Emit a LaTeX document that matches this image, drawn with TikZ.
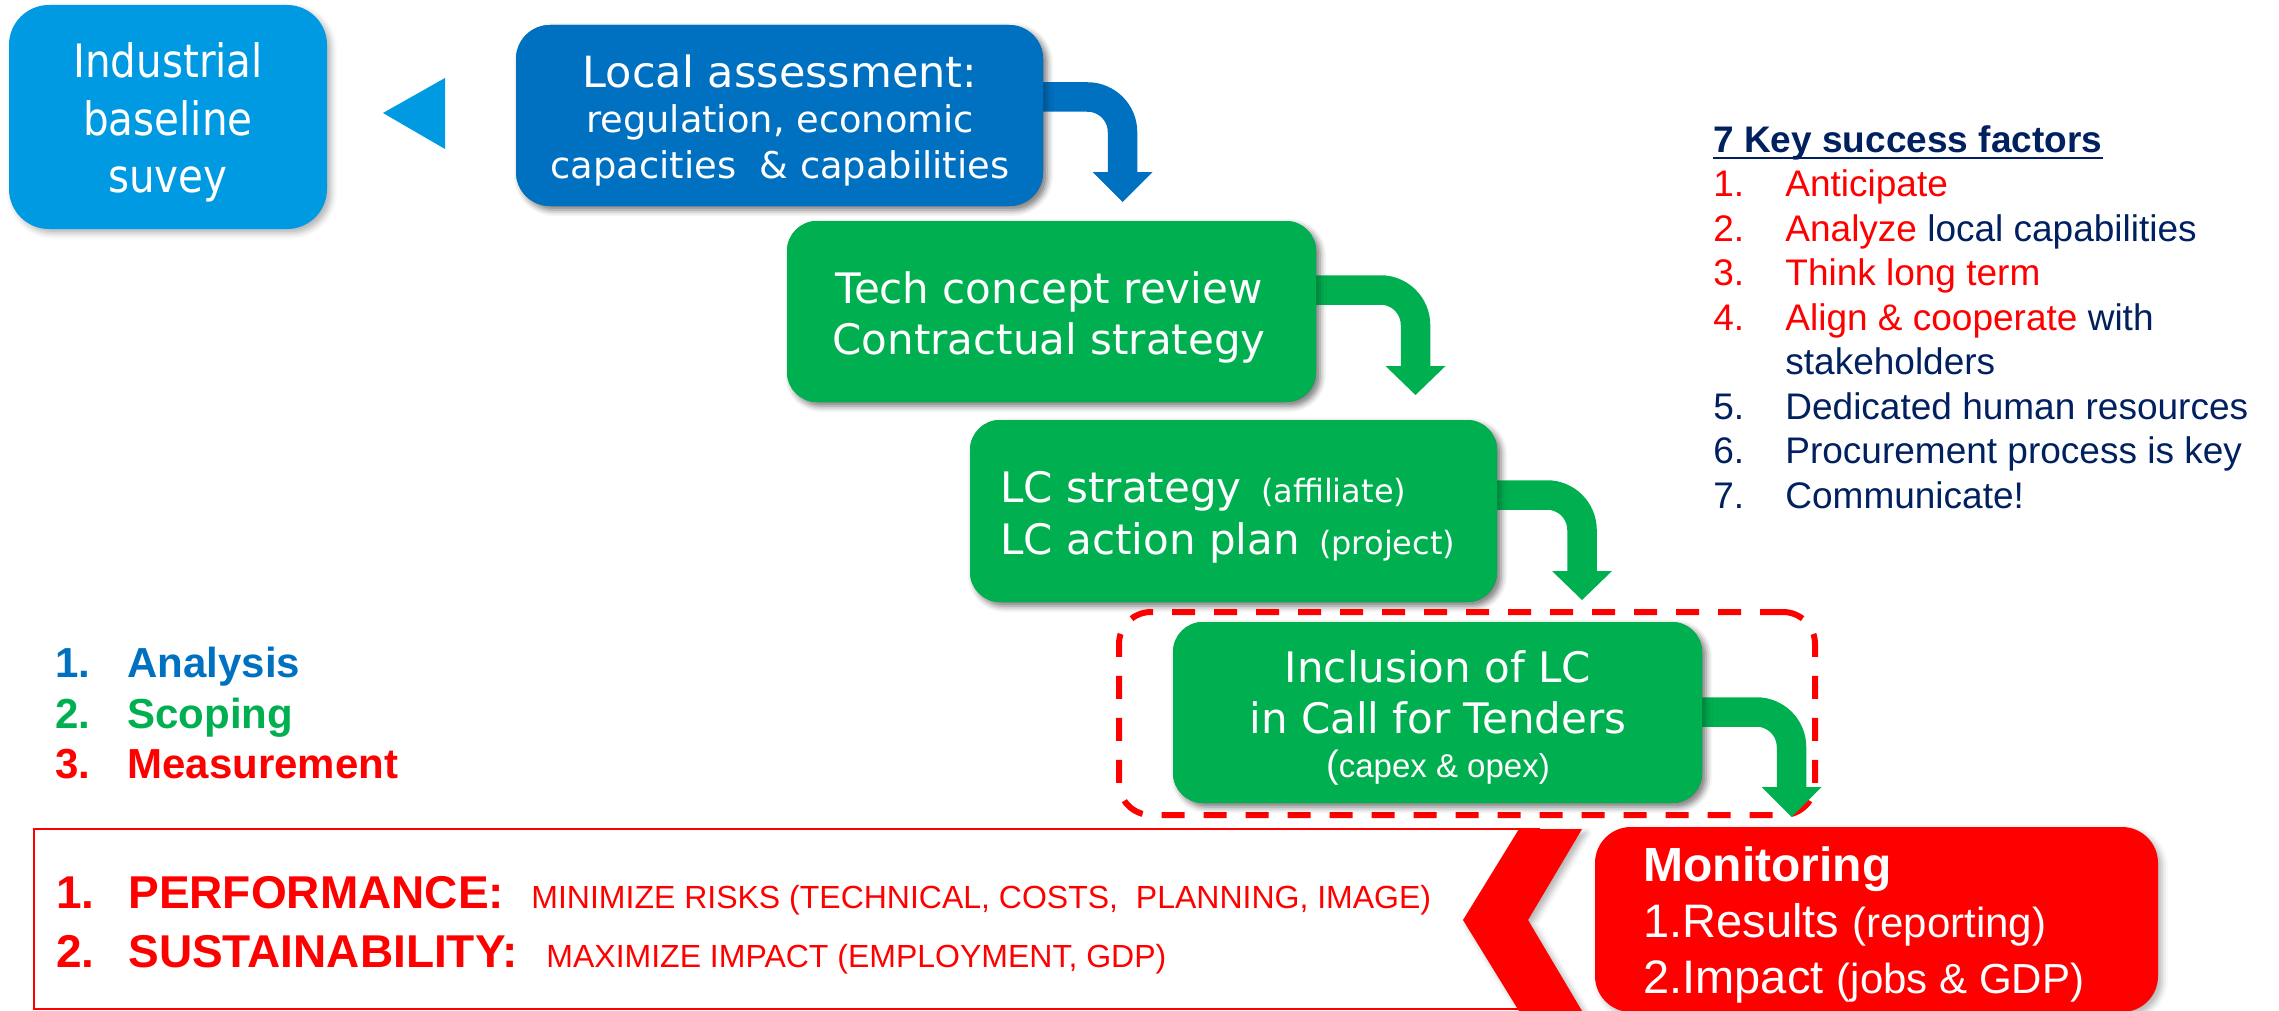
\documentclass[tikz,border=0pt]{standalone}
\usepackage{fontspec}
\setmainfont{Liberation Sans}
\newfontfamily\vf{DejaVu Sans}
\newfontfamily\vfn[FakeStretch=0.88]{DejaVu Sans}
\usetikzlibrary{shadows.blur}
\definecolor{cSky}{HTML}{009AE2}
\definecolor{cBlue}{HTML}{0070C0}
\definecolor{cGreen}{HTML}{00B050}
\definecolor{cRed}{HTML}{FF0000}
\definecolor{cNavy}{HTML}{002060}
\newcommand\fsz[1]{\fontsize{#1}{#1}\selectfont}
\begin{document}
\begin{tikzpicture}[x=0.5pt,y=-0.5pt,
  box/.style={rounded corners=#1, inner sep=0pt, draw=none,
    blur shadow={shadow xshift=2pt, shadow yshift=-2pt, shadow blur radius=3pt, shadow opacity=30}},
  box/.default=15pt,
  wt/.style={inner sep=0pt, text=white},
  lt/.style={inner sep=0pt, anchor=base west},
  shaft/.style={line width=14.75pt, rounded corners=17.5pt},
  dbox/.style={draw=cRed, line width=3pt, dash pattern=on 11.5pt off 9.5pt, rounded corners=16pt, inner sep=0pt}
]
\useasboundingbox (0,0) rectangle (2279,1011);

% ---------- boxes ----------
\node[box=20pt, fill=cSky, minimum width=159pt, minimum height=112pt] (ind) at (168,117) {};
\node[box=17pt, fill=cBlue, minimum width=263.5pt, minimum height=90.5pt] (local) at (779.5,115.5) {};

% ---------- bent arrows (drawn under the boxes) ----------
\coordinate (b1) at (1122.5,97);  \coordinate (b2) at (1122.5,172);
\coordinate (g1a) at (1415.5,290); \coordinate (g1b) at (1415.5,366);
\coordinate (g2a) at (1582,495);   \coordinate (g2b) at (1582,571);
\coordinate (g3a) at (1791.5,712); \coordinate (g3b) at (1791.5,787);

\node[box, fill=cGreen, minimum width=264.5pt, minimum height=90.5pt] (tech) at (1051.5,311.5) {};
\node[box, fill=cGreen, minimum width=263.5pt, minimum height=91pt] (lc) at (1233.5,511) {};

\coordinate (s0) at ([xshift=-8pt]local.east);
\coordinate (s1) at ([xshift=-8pt]tech.east);
\coordinate (s2) at ([xshift=-8pt]lc.east);

\draw[shaft, cBlue] (s0 |- b1) -- (b1) -- (b2);
\fill[cBlue] ([xshift=-15pt]b2) -- ([xshift=15pt]b2) -- ([yshift=-15pt]b2) -- cycle;
\draw[shaft, cGreen] (s1 |- g1a) -- (g1a) -- (g1b);
\fill[cGreen] ([xshift=-15pt]g1b) -- ([xshift=15pt]g1b) -- ([yshift=-14.5pt]g1b) -- cycle;
\draw[shaft, cGreen] (s2 |- g2a) -- (g2a) -- (g2b);
\fill[cGreen] ([xshift=-15pt]g2b) -- ([xshift=15pt]g2b) -- ([yshift=-14.5pt]g2b) -- cycle;

% redraw boxes on top of arrow starts
\node[box=17pt, fill=cBlue, minimum width=263.5pt, minimum height=90.5pt] at (local) {};
\node[box, fill=cGreen, minimum width=264.5pt, minimum height=90.5pt] at (tech) {};
\node[box, fill=cGreen, minimum width=263.5pt, minimum height=91pt] at (lc) {};

% dashed frame and inclusion box
\node[dbox, minimum width=348pt, minimum height=101.5pt] (frame) at (1467,713.5) {};
\node[box, fill=cGreen, minimum width=264.5pt, minimum height=90.5pt] (incl) at (1437.5,712.5) {};
\coordinate (s3) at ([xshift=-8pt]incl.east);
\draw[shaft, cGreen] (s3 |- g3a) -- (g3a) -- (g3b);
\fill[cGreen] ([xshift=-15pt]g3b) -- ([xshift=15pt]g3b) -- ([yshift=-15pt]g3b) -- cycle;
\node[box, fill=cGreen, minimum width=264.5pt, minimum height=90.5pt] at (incl) {};

% monitoring box
\node[box=18pt, fill=cRed, minimum width=281.5pt, minimum height=92.5pt] (mon) at (1876.5,919.5) {};

% left-pointing triangle
\fill[cSky] (383,113) -- (445,78) -- (445,149) -- cycle;

% bottom frame and chevron
\draw[cRed, line width=1.25pt] (1540,829) -- (34,829) -- (34,1009) -- (1540,1009);
\fill[cRed, blur shadow={shadow xshift=2pt, shadow yshift=-2pt, shadow blur radius=3pt, shadow opacity=30}]
  (1519,829) -- (1582,829) -- (1528,920) -- (1582,1011) -- (1519,1011) -- (1463,920) -- cycle;

% ---------- texts in boxes ----------
\node[wt, anchor=base] (ti1) at (168,78) {\vfn\fsz{23}Industrial};
\node[wt, anchor=base] (ti2) at (168,135) {\vfn\fsz{23}baseline};
\node[wt, anchor=base] (ti3) at (168,192) {\vfn\fsz{23}suvey};

\node[wt, anchor=base] (tl1) at (780,88) {\vf\fsz{21.5}Local assessment:};
\node[wt, anchor=base] (tl2) at (780,133) {\vf\fsz{18.4}regulation, economic};
\node[wt, anchor=base] (tl3) at (780,178) {\vf\fsz{18.4}capacities\ \ \& capabilities};

\node[wt, anchor=base] (tt1) at (1049,303) {\vf\fsz{21}Tech concept review};
\node[wt, anchor=base] (tt2) at (1049,354) {\vf\fsz{21}Contractual strategy};

\node[wt, anchor=base west] (tc1) at (1000,502) {\vf\fsz{21}LC strategy\hspace{3pt} {\fsz{16}(affiliate)}};
\node[wt, anchor=base west] (tc2) at (1000,554) {\vf\fsz{21}LC action plan\hspace{3pt} {\fsz{16}(project)}};

\node[wt, anchor=base] (tn1) at (1438,682) {\vf\fsz{21}Inclusion of LC};
\node[wt, anchor=base] (tn2) at (1438,733) {\vf\fsz{21}in Call for Tenders};
\node[wt, anchor=base] (tn3) at (1438,777) {\fsz{16.5}{\fsz{19}(}capex \& opex)};

\node[wt, anchor=base west] (tm1) at (1643,881) {\bfseries\fsz{24}Monitoring};
\node[wt, anchor=base west] (tm2) at (1643,937) {\fsz{23.5}1.Results {\fsz{21}(reporting)}};
\node[wt, anchor=base west] (tm3) at (1643,993) {\fsz{23.5}2.Impact {\fsz{21}(jobs \& GDP)}};

% ---------- left list ----------
\node[lt, text=cBlue] (la1) at (55,677) {\bfseries\fsz{21}1.};
\node[lt, text=cBlue] (la2) at (127,677) {\bfseries\fsz{21}Analysis};
\node[lt, text=cGreen] (lb1) at (55,728) {\bfseries\fsz{21}2.};
\node[lt, text=cGreen] (lb2) at (127,728) {\bfseries\fsz{21}Scoping};
\node[lt, text=cRed] (lc1) at (55,778) {\bfseries\fsz{21}3.};
\node[lt, text=cRed] (lc2) at (127,778) {\bfseries\fsz{21}Measurement};

% ---------- bottom frame texts ----------
\node[lt, text=cRed] (p1) at (56,908) {\bfseries\fsz{23}1.};
\node[lt, text=cRed] (p2) at (128,908) {\bfseries\fsz{23}PERFORMANCE:};
\node[lt, text=cRed] (p3) at (531,908) {\fsz{16}MINIMIZE RISKS (TECHNICAL, COSTS,\ \ PLANNING, IMAGE)};
\node[lt, text=cRed] (q1) at (56,967) {\bfseries\fsz{23}2.};
\node[lt, text=cRed] (q2) at (128,967) {\bfseries\fsz{23}SUSTAINABILITY:};
\node[lt, text=cRed] (q3) at (546,967) {\fsz{16}MAXIMIZE IMPACT (EMPLOYMENT, GDP)};

% ---------- key success factors ----------
\node[lt, text=cNavy] (ksf) at (1713,152) {\bfseries\fsz{18.5}7 Key success factors};
\draw[cNavy, line width=1.3pt] ([yshift=-3pt]ksf.base west) -- ([yshift=-3pt]ksf.base east);
\node[lt, text=cRed] (k1n) at (1713,196.5) {\fsz{18.5}1.};
\node[lt, text=cRed] (k1t) at (1785,196.5) {\fsz{18.5}Anticipate};
\node[lt, text=cRed] (k2n) at (1713,241) {\fsz{18.5}2.};
\node[lt, text=cRed] (k2t) at (1785,241) {\fsz{18.5}Analyze \textcolor{cNavy}{local capabilities}};
\node[lt, text=cRed] (k3n) at (1713,285.5) {\fsz{18.5}3.};
\node[lt, text=cRed] (k3t) at (1785,285.5) {\fsz{18.5}Think long term};
\node[lt, text=cRed] (k4n) at (1713,330) {\fsz{18.5}4.};
\node[lt, text=cRed] (k4t) at (1785,330) {\fsz{18.5}Align \& cooperate \textcolor{cNavy}{with}};
\node[lt, text=cNavy] (k4u) at (1785,374.5) {\fsz{18.5}stakeholders};
\node[lt, text=cNavy] (k5n) at (1713,419) {\fsz{18.5}5.};
\node[lt, text=cNavy] (k5t) at (1785,419) {\fsz{18.5}Dedicated human resources};
\node[lt, text=cNavy] (k6n) at (1713,463.5) {\fsz{18.5}6.};
\node[lt, text=cNavy] (k6t) at (1785,463.5) {\fsz{18.5}Procurement process is key};
\node[lt, text=cNavy] (k7n) at (1713,508) {\fsz{18.5}7.};
\node[lt, text=cNavy] (k7t) at (1785,508) {\fsz{18.5}Communicate!};
\end{tikzpicture}
\end{document}
